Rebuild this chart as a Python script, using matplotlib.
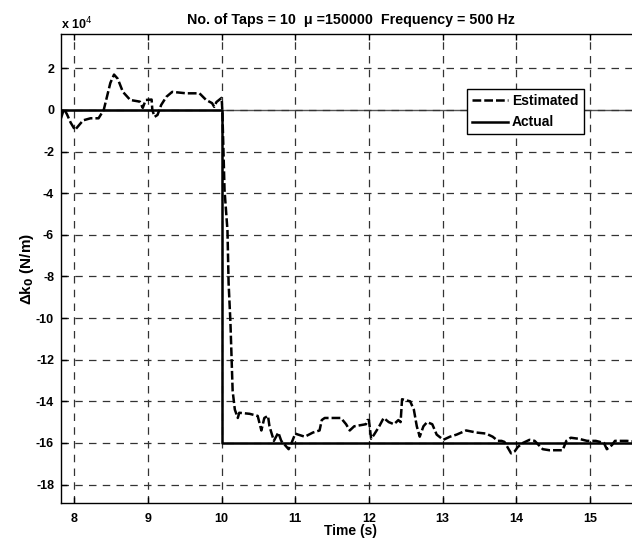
import matplotlib
matplotlib.use("Agg")
import matplotlib.pyplot as plt

plt.rcParams['font.family'] = ['Liberation Sans', 'DejaVu Sans']

# Estimated Δk0 (units of 1e4 N/m)
t_est = [7.82, 7.86, 7.90, 7.95, 8.01, 8.06, 8.12, 8.22, 8.33, 8.40, 8.49, 8.54,
         8.59, 8.66, 8.76, 8.89, 8.93, 8.97, 9.05, 9.06, 9.09, 9.13, 9.18, 9.25,
         9.33, 9.52, 9.70, 9.79, 9.87, 9.90, 9.93, 10.0,
         10.01, 10.04, 10.08, 10.095, 10.12, 10.15, 10.18, 10.22, 10.24, 10.38,
         10.49, 10.54, 10.58, 10.63, 10.65, 10.71, 10.77, 10.81, 10.91, 10.95,
         11.0, 11.04, 11.13, 11.24, 11.33, 11.36, 11.40, 11.62, 11.69, 11.74,
         11.80, 11.96, 11.98, 12.0, 12.03, 12.07, 12.14, 12.2, 12.27, 12.34,
         12.40, 12.43, 12.45, 12.56, 12.61, 12.65, 12.69, 12.74, 12.79, 12.86,
         12.92, 13.01, 13.1, 13.19, 13.32, 13.46, 13.59, 13.68, 13.75, 13.8,
         13.84, 13.93, 13.98, 14.02, 14.09, 14.18, 14.25, 14.36, 14.45, 14.63,
         14.68, 14.74, 14.85, 14.96, 15.08, 15.19, 15.23, 15.30, 15.34, 15.5, 15.68]
y_est = [-0.4, 0.05, -0.2, -0.6, -0.96, -0.75, -0.5, -0.4, -0.4, 0.0, 1.3, 1.7,
         1.5, 0.87, 0.48, 0.4, 0.1, 0.48, 0.5, 0.0, -0.33, -0.24, 0.24, 0.63,
         0.87, 0.8, 0.8, 0.48, 0.33, 0.15, 0.38, 0.58,
         0.0, -3.85, -5.8, -8.3, -10.2, -13.5, -14.4, -14.8, -14.55, -14.6,
         -14.7, -15.4, -14.8, -14.7, -15.2, -15.9, -15.5, -15.9, -16.3, -16.0,
         -15.55, -15.6, -15.7, -15.5, -15.4, -14.9, -14.8, -14.8, -15.1, -15.4,
         -15.2, -15.1, -14.9, -14.9, -15.8, -15.6, -15.2, -14.8, -15.0, -15.1,
         -14.9, -15.0, -13.9, -14.0, -14.4, -15.2, -15.7, -15.2, -15.0, -15.1,
         -15.6, -15.85, -15.7, -15.6, -15.4, -15.5, -15.55, -15.7, -15.9, -15.9,
         -15.95, -16.5, -16.4, -16.2, -16.0, -15.85, -15.9, -16.3, -16.35, -16.35,
         -15.9, -15.75, -15.8, -15.9, -15.9, -16.0, -16.3, -16.1, -15.9, -15.9, -15.95]

# Actual Δk0 (units of 1e4 N/m)
t_act = [7.82, 10.0, 10.0, 15.68]
y_act = [0.0, 0.0, -16.0, -16.0]

xticks = [8, 9, 10, 11, 12, 13, 14, 15]
yticks = [-18, -16, -14, -12, -10, -8, -6, -4, -2, 0, 2]

W, H = 632, 538
fig = plt.figure(figsize=(W / 100, H / 100), dpi=100)
left, right, top, bottom = 61, 640, 34, 503.3
ax = fig.add_axes([left / W, 1 - bottom / H, (right - left) / W, (bottom - top) / H])

ax.set_xlim(7.82, 15.68)
ax.set_ylim(-18.9, 3.65)

ax.axhline(0, color='#555555', lw=1.0, zorder=1)
ax.plot(t_est, y_est, color='black', lw=1.8, ls=(0, (3.5, 1.2)), label='Estimated', zorder=3)
ax.plot(t_act, y_act, color='black', lw=1.8, ls='-', label='Actual', zorder=2)

ax.set_xticks(xticks)
ax.set_yticks(yticks)
ax.set_xticklabels([str(v) for v in xticks], fontsize=9, fontweight='bold')
ax.set_yticklabels([str(v).replace('-', '- ') if False else str(v) for v in yticks],
                   fontsize=9, fontweight='bold')
ax.tick_params(direction='in', length=4, width=1, top=True, right=False)
ax.tick_params(axis='x', pad=7)
ax.tick_params(axis='y', pad=5)
ax.grid(True, color='#333333', ls=(0, (6, 5)), lw=0.9)
for s in ax.spines.values():
    s.set_linewidth(1.0)
ax.spines['right'].set_visible(False)

ax.set_title('No. of Taps = 10  μ =150000  Frequency = 500 Hz', fontsize=10.3,
             fontweight='bold', pad=7)
ax.set_xlabel('Time (s)', fontsize=10, fontweight='bold', labelpad=-1)
ax.set_ylabel('Δk$_\\mathbf{0}$ (N/m)', fontsize=11, fontweight='bold', labelpad=0)

fig.text(61 / W, 1 - 29 / H, r'x 10$^4$', fontsize=9, fontweight='bold', ha='left', va='baseline')

leg = ax.legend(loc='upper left', bbox_to_anchor=((467 - left) / (right - left), (bottom - 89) / (bottom - top)),
                borderaxespad=0, fancybox=False, edgecolor='black', framealpha=1,
                prop={'size': 10, 'weight': 'bold'}, handlelength=2.6, handletextpad=0.3,
                borderpad=0.35, labelspacing=0.55)
leg.get_frame().set_linewidth(1.0)

fig.savefig('out.png', dpi=100)
